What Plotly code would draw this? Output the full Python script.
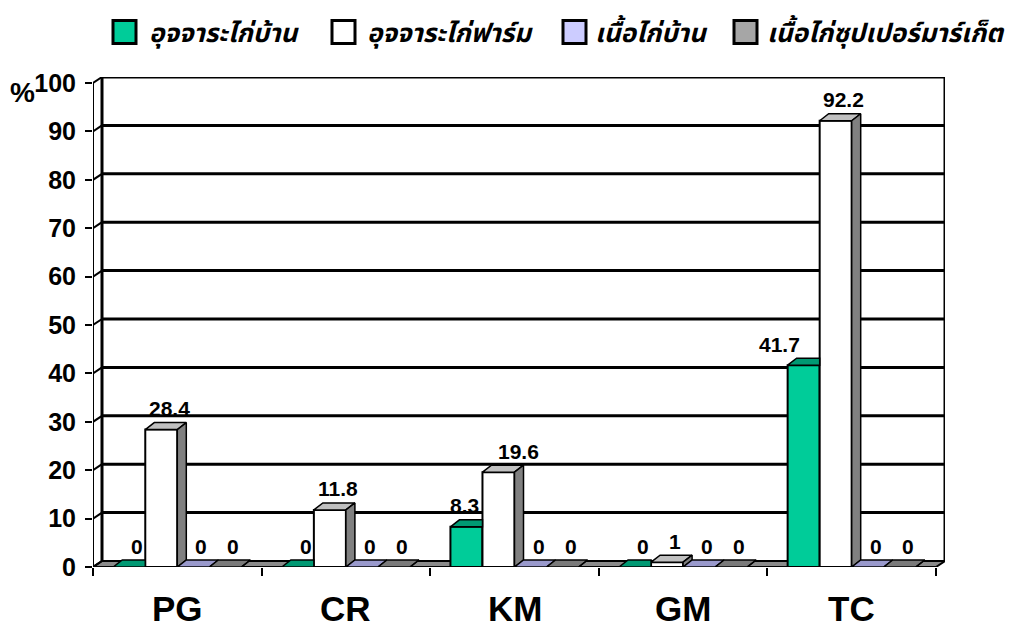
import plotly.graph_objects as go

# ---------------- data ----------------
categories = ["PG", "CR", "KM", "GM", "TC"]
series_names = ["อุจจาระไก่บ้าน", "อุจจาระไก่ฟาร์ม", "เนื้อไก่บ้าน", "เนื้อไก่ซุปเปอร์มาร์เก็ต"]
feces_village = [0, 0, 8.3, 0, 41.7]
feces_farm = [28.4, 11.8, 19.6, 1, 92.2]
meat_village = [0, 0, 0, 0, 0]
meat_supermarket = [0, 0, 0, 0, 0]
y_ticks = [0, 10, 20, 30, 40, 50, 60, 70, 80, 90, 100]
y_unit_label = "%"

series_values = [feces_village, feces_farm, meat_village, meat_supermarket]

# ---------------- style ----------------
front_colors = ["#00CC99", "#FFFFFF", "#CCCCFF", "#969696"]
legend_colors = ["#00CC99", "#FFFFFF", "#CCCCFF", "#A6A6A6"]
top_colors = ["#009973", "#C0C0C0", "#9999CC", "#7A7A7A"]
side_colors = ["#008060", "#808080", "#8080B0", "#5E5E5E"]
NUM_FONT = "Liberation Sans Narrow, Arial Narrow, Liberation Sans, Arial, sans-serif"
THAI_FONT = "Noto Sans Thai, Noto Sans Thai Looped, Loma, Garuda, Noto Sans, DejaVu Sans, sans-serif"

W, H = 1021, 630
ML, MR, MT, MB = 93, 76, 77, 63
plot_w = W - ML - MR
plot_h = H - MT - MB
wall_dx_px, wall_dy_px = 9, 6
bar_dx_px, bar_dy_px = 9, 7
n_cat = len(categories)
kx = (plot_w - wall_dx_px) / n_cat          # px per category
y_top = y_ticks[-1]
ky = (plot_h - wall_dy_px) / y_top          # px per unit
x_range = [-0.5, -0.5 + plot_w / kx]
y_range = [0, plot_h / ky]
wdx, wdy = wall_dx_px / kx, wall_dy_px / ky
bdx, bdy = bar_dx_px / kx, bar_dy_px / ky

bargap = 0.24
n_ser = len(series_values)
bw = (1 - bargap) / n_ser
x_idx = list(range(n_cat))


def px_to_paper_x(px):
    return (px - ML) / plot_w


def px_to_paper_y(py):
    return 1 - (py - MT) / plot_h


fig = go.Figure()

# front faces (bars)
for j, (name, vals) in enumerate(zip(series_names, series_values)):
    fig.add_trace(go.Bar(
        x=x_idx, y=vals, name=name,
        marker=dict(color=front_colors[j], line=dict(color="black", width=2)),
        hoverinfo="skip", showlegend=False,
    ))

# 3D top / side faces derived from the values
for j, vals in enumerate(series_values):
    top_x, top_y, side_x, side_y = [], [], [], []
    for i, v in enumerate(vals):
        x0 = i - (1 - bargap) / 2 + j * bw
        x1 = x0 + bw
        vn = series_values[j + 1][i] if j + 1 < n_ser else None
        if vn is not None and vn > v:
            top_x += [x0, x1, x1, x0 + bdx, x0, None]
            top_y += [v, v, v + bdy, v + bdy, v, None]
        else:
            top_x += [x0, x1, x1 + bdx, x0 + bdx, x0, None]
            top_y += [v, v, v + bdy, v + bdy, v, None]
        if vn is None or vn < v:
            base = vn if vn is not None else 0
            side_x += [x1, x1, x1 + bdx, x1 + bdx, x1, None]
            side_y += [base, v, v + bdy, base + bdy, base, None]
    fig.add_trace(go.Scatter(x=top_x, y=top_y, fill="toself", fillcolor=top_colors[j],
                             mode="lines", line=dict(color="black", width=1.5),
                             showlegend=False, hoverinfo="skip"))
    if side_x:
        fig.add_trace(go.Scatter(x=side_x, y=side_y, fill="toself", fillcolor=side_colors[j],
                                 mode="lines", line=dict(color="black", width=1.5),
                                 showlegend=False, hoverinfo="skip"))

# ---------------- walls / floor / grid (shapes below traces) ----------------
shapes = []
x_left, x_right = -0.5, n_cat - 0.5
floor_path = (f"M{x_left},0 L{x_right},0 L{x_right + wdx},{wdy} "
              f"L{x_left + wdx},{wdy} Z")
shapes.append(dict(type="path", path=floor_path, xref="x", yref="y", layer="below",
                   fillcolor="#8A8A8A", line=dict(color="black", width=2)))
for t in y_ticks:
    if t > 0:
        shapes.append(dict(type="line", xref="x", yref="y", layer="below",
                           x0=x_left + wdx, x1=x_right + wdx, y0=t + wdy, y1=t + wdy,
                           line=dict(color="black", width=3)))
    shapes.append(dict(type="line", xref="x", yref="y", layer="below",
                       x0=x_left, x1=x_left + wdx, y0=t, y1=t + wdy,
                       line=dict(color="black", width=2)))
# back wall verticals
shapes.append(dict(type="line", xref="x", yref="y", layer="below",
                   x0=x_left + wdx, x1=x_left + wdx, y0=wdy, y1=y_top + wdy,
                   line=dict(color="black", width=3)))
shapes.append(dict(type="line", xref="x", yref="y", layer="below",
                   x0=x_right + wdx, x1=x_right + wdx, y0=wdy, y1=y_top + wdy,
                   line=dict(color="black", width=3)))
# front value axis line
shapes.append(dict(type="line", xref="x", yref="y", layer="above",
                   x0=x_left, x1=x_left, y0=0, y1=y_top,
                   line=dict(color="black", width=2)))

# ---------------- custom legend (squares + text) ----------------
legend_square_px = [113, 332, 563, 734]     # left edge of each swatch
legend_text_px = [147, 365, 593, 765]       # left edge of each label
legend_cy, legend_sq = 32, 23
annotations = []
for k, name in enumerate(series_names):
    sx = legend_square_px[k]
    shapes.append(dict(type="rect", xref="paper", yref="paper", layer="above",
                       x0=px_to_paper_x(sx), x1=px_to_paper_x(sx + legend_sq),
                       y0=px_to_paper_y(legend_cy + legend_sq / 2),
                       y1=px_to_paper_y(legend_cy - legend_sq / 2),
                       fillcolor=legend_colors[k], line=dict(color="black", width=3)))
    annotations.append(dict(
        x=px_to_paper_x(legend_text_px[k]), y=px_to_paper_y(legend_cy + 2),
        xref="paper", yref="paper", text=name, showarrow=False,
        xanchor="left", yanchor="middle",
        font=dict(family=THAI_FONT, size=26, color="black", style="italic", weight="bold")))

# ---------------- value labels ----------------
label_nudge_px = {(0, 4): -32, (0, 2): -10, (1, 2): 12}
for j, vals in enumerate(series_values):
    for i, v in enumerate(vals):
        xc = i - (1 - bargap) / 2 + (j + 0.5) * bw
        annotations.append(dict(
            x=xc, y=v, xref="x", yref="y", text=f"{v:g}", showarrow=False,
            xshift=8 + label_nudge_px.get((j, i), 0), yshift=21,
            xanchor="center", yanchor="middle",
            font=dict(family=NUM_FONT, size=21, color="black", weight="bold")))
for i, c in enumerate(categories):
    annotations.append(dict(
        x=i, y=0, xref="x", yref="paper", text=c, showarrow=False,
        yshift=-41, xanchor="center", yanchor="middle",
        font=dict(family=NUM_FONT, size=35, color="black", weight="bold")))
annotations.append(dict(
    x=px_to_paper_x(22), y=px_to_paper_y(93), xref="paper", yref="paper",
    text=y_unit_label, showarrow=False, xanchor="center", yanchor="middle",
    font=dict(family=NUM_FONT, size=28, color="black", weight="bold")))

fig.update_layout(
    width=W, height=H,
    margin=dict(l=ML, r=MR, t=MT, b=MB, autoexpand=False),
    paper_bgcolor="white", plot_bgcolor="white",
    barmode="group", bargap=bargap, bargroupgap=0,
    shapes=shapes, annotations=annotations,
    showlegend=False,
    xaxis=dict(range=x_range, tickvals=[k - 0.5 for k in range(n_cat + 1)],
               showticklabels=False, ticks="outside", ticklen=8, tickwidth=2,
               tickcolor="black", showgrid=False, zeroline=False, showline=False,
               fixedrange=True),
    yaxis=dict(range=y_range, tickvals=y_ticks, ticktext=[str(t) for t in y_ticks],
               ticks="outside", ticklen=7, tickwidth=2, tickcolor="black",
               ticklabelstandoff=4,
               showgrid=False, zeroline=False, showline=False,
               tickfont=dict(family=NUM_FONT, size=25, color="black", weight="bold"),
               fixedrange=True),
)

fig.write_html("out.html")
